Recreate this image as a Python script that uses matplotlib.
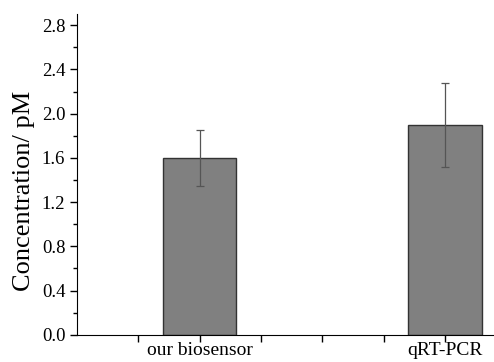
import matplotlib.pyplot as plt
from matplotlib.ticker import MultipleLocator

# data
categories = ['our biosensor', 'qRT-PCR']
positions = [1.0, 3.0]
values = [1.60, 1.90]
errors = [0.25, 0.38]

plt.rcParams['font.family'] = ['Liberation Serif', 'DejaVu Serif']

fig = plt.figure(figsize=(4.94, 3.62), dpi=100)
ax = fig.add_axes([0.156, 0.075, 0.844, 0.886])

ax.bar(positions, values, width=0.6, color='#808080', edgecolor='#333333',
       linewidth=1.0, zorder=2)
ax.errorbar(positions, values, yerr=errors, fmt='none', ecolor='#555555',
            elinewidth=0.9, capsize=3, capthick=0.9, zorder=3)

ax.set_xlim(0, 3.4)
ax.set_ylim(0, 2.9)
ax.set_xticks([0.5, 1.0, 1.5, 2.0, 2.5, 3.0])
ax.set_xticklabels(['', categories[0], '', '', '', categories[1]])
ax.yaxis.set_major_locator(MultipleLocator(0.4))
ax.yaxis.set_minor_locator(MultipleLocator(0.2))
ax.yaxis.set_major_formatter(plt.FormatStrFormatter('%.1f'))

ax.spines['top'].set_visible(False)
ax.spines['right'].set_visible(False)
ax.tick_params(axis='both', which='major', direction='out', length=5,
               width=1, labelsize=13.5, colors='black')
ax.tick_params(axis='x', labelsize=14, pad=0.5)
ax.tick_params(axis='y', which='minor', direction='out', length=3, width=1)

ax.set_ylabel('Concentration/ pM', fontsize=19)
ax.yaxis.set_label_coords(-0.10, 0.45)

fig.savefig('out.png', dpi=100)
